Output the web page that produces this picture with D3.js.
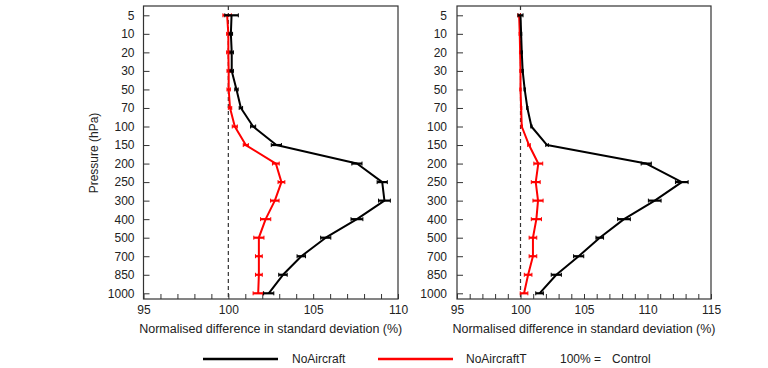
<!DOCTYPE html>
<html><head><meta charset="utf-8">
<script src="https://cdn.jsdelivr.net/npm/d3@7"></script>
<style>
body{margin:0;background:#fff;}
text{font-family:"Liberation Sans",Arial,Helvetica,sans-serif;fill:#222;}
</style></head>
<body><svg id="c" width="768" height="368"></svg>
<script>
const levels = ["5","10","20","30","50","70","100","150","200","250","300","400","500","700","850","1000"];

const leftBlack    = [100.19,100.15,100.2,100.2,100.48,100.74,101.46,102.83,107.58,109.07,109.2,107.58,105.74,104.3,103.22,102.38];
const leftBlackErr = [0.4,0.1,0.1,0.1,0.1,0.1,0.15,0.3,0.3,0.3,0.35,0.35,0.3,0.25,0.25,0.3];
const leftRed      = [99.93,100.0,100.0,100.02,100.02,100.1,100.38,101.03,102.8,103.13,102.74,102.2,101.8,101.8,101.8,101.76];
const leftRedErr   = [0.25,0.1,0.1,0.1,0.1,0.1,0.15,0.15,0.2,0.2,0.25,0.3,0.3,0.2,0.2,0.3];

const rightBlack    = [100.0,100.05,100.1,100.17,100.33,100.54,100.86,102.09,109.9,112.7,110.57,108.15,106.24,104.58,102.82,101.5];
const rightBlackErr = [0.2,0.05,0.05,0.05,0.05,0.05,0.05,0.1,0.4,0.5,0.5,0.5,0.3,0.4,0.4,0.3];
const rightRed      = [99.89,99.94,99.97,100.0,100.0,100.05,100.1,100.67,101.4,101.2,101.38,101.25,100.98,100.98,100.6,100.28];
const rightRedErr   = [0.1,0.05,0.05,0.05,0.05,0.05,0.05,0.1,0.35,0.35,0.4,0.4,0.3,0.3,0.3,0.3];

const leftTicks  = [95,100,105,110];
const rightTicks = [95,100,105,110,115];
const xTitle = "Normalised difference in standard deviation (%)";
const yTitle = "Pressure (hPa)";
const legendItems = [{name:"NoAircraft",color:"#000"},{name:"NoAircraftT",color:"#ff0000"}];

const svg = d3.select("#c");
const pTop = 6, pBottom = 299;
const y = d3.scalePoint().domain(levels).range([15.3, 293.3]);

function panel(x0, x1, dom, ticks, black, blackErr, red, redErr, lblPad){
  const x = d3.scaleLinear().domain(dom).range([x0, x1]);
  const g = svg.append("g");
  g.append("rect").attr("x",x0).attr("y",pTop).attr("width",x1-x0).attr("height",pBottom-pTop)
    .attr("fill","none").attr("stroke","#333").attr("stroke-width",1.2);
  const ya = g.append("g").attr("transform",`translate(${x0},0)`)
    .call(d3.axisLeft(y).tickSize(-6).tickPadding(lblPad));
  ya.select(".domain").remove();
  ya.selectAll("line").attr("stroke","#333");
  ya.selectAll("text").attr("font-size",12).attr("fill","#222");
  const minor = d3.range(dom[0], dom[1]+0.001, 1);
  const xa = g.append("g").attr("transform",`translate(0,${pBottom})`)
    .call(d3.axisBottom(x).tickValues(minor).tickSize(-5).tickPadding(6)
      .tickFormat(d => ticks.includes(d) ? d3.format("d")(d) : ""));
  xa.select(".domain").remove();
  xa.selectAll("line").attr("stroke","#333");
  xa.selectAll("text").attr("font-size",12).attr("fill","#222");
  g.append("text").attr("x",(x0+x1)/2).attr("y",332.5).attr("text-anchor","middle")
    .attr("font-size",12.5).text(xTitle);
  g.append("line").attr("x1",x(100)).attr("x2",x(100)).attr("y1",pTop).attr("y2",pBottom)
    .attr("stroke","#333").attr("stroke-width",1.2).attr("stroke-dasharray","4,3");
  const line = d3.line().x(d=>x(d.v)).y(d=>y(d.l));
  function series(vals, errs, color){
    const data = levels.map((l,i)=>({l, v:vals[i], e:errs[i]}));
    g.append("path").datum(data).attr("d",line).attr("fill","none")
      .attr("stroke",color).attr("stroke-width",2).attr("stroke-linejoin","round");
    const eb = g.append("g");
    data.forEach(d=>{
      eb.append("line").attr("x1",x(d.v-d.e)).attr("x2",x(d.v+d.e)).attr("y1",y(d.l)).attr("y2",y(d.l))
        .attr("stroke",color).attr("stroke-width",2.2);
      [d.v-d.e, d.v+d.e].forEach(vv=>{
        eb.append("line").attr("x1",x(vv)).attr("x2",x(vv)).attr("y1",y(d.l)-2).attr("y2",y(d.l)+2)
          .attr("stroke",color).attr("stroke-width",1);
      });
    });
  }
  series(red, redErr, "#ff0000");
  series(black, blackErr, "#000");
}

panel(143.5, 398, [95,110], leftTicks, leftBlack, leftBlackErr, leftRed, leftRedErr, 9);
panel(457, 711, [95,115], rightTicks, rightBlack, rightBlackErr, rightRed, rightRedErr, 10);

svg.append("text").attr("transform","translate(98,153) rotate(-90)").attr("text-anchor","middle")
  .attr("font-size",12).text(yTitle);

const lg = svg.append("g");
const lx = [203, 378], tx = [292, 466];
legendItems.forEach((it,i)=>{
  lg.append("line").attr("x1",lx[i]).attr("x2",lx[i]+75).attr("y1",359).attr("y2",359)
    .attr("stroke",it.color).attr("stroke-width",2.5);
  lg.append("text").attr("x",tx[i]).attr("y",363).attr("font-size",12).text(it.name);
});
lg.append("text").attr("x",560).attr("y",363).attr("font-size",12).text("100% =");
lg.append("text").attr("x",612).attr("y",363).attr("font-size",12).text("Control");
</script></body></html>
